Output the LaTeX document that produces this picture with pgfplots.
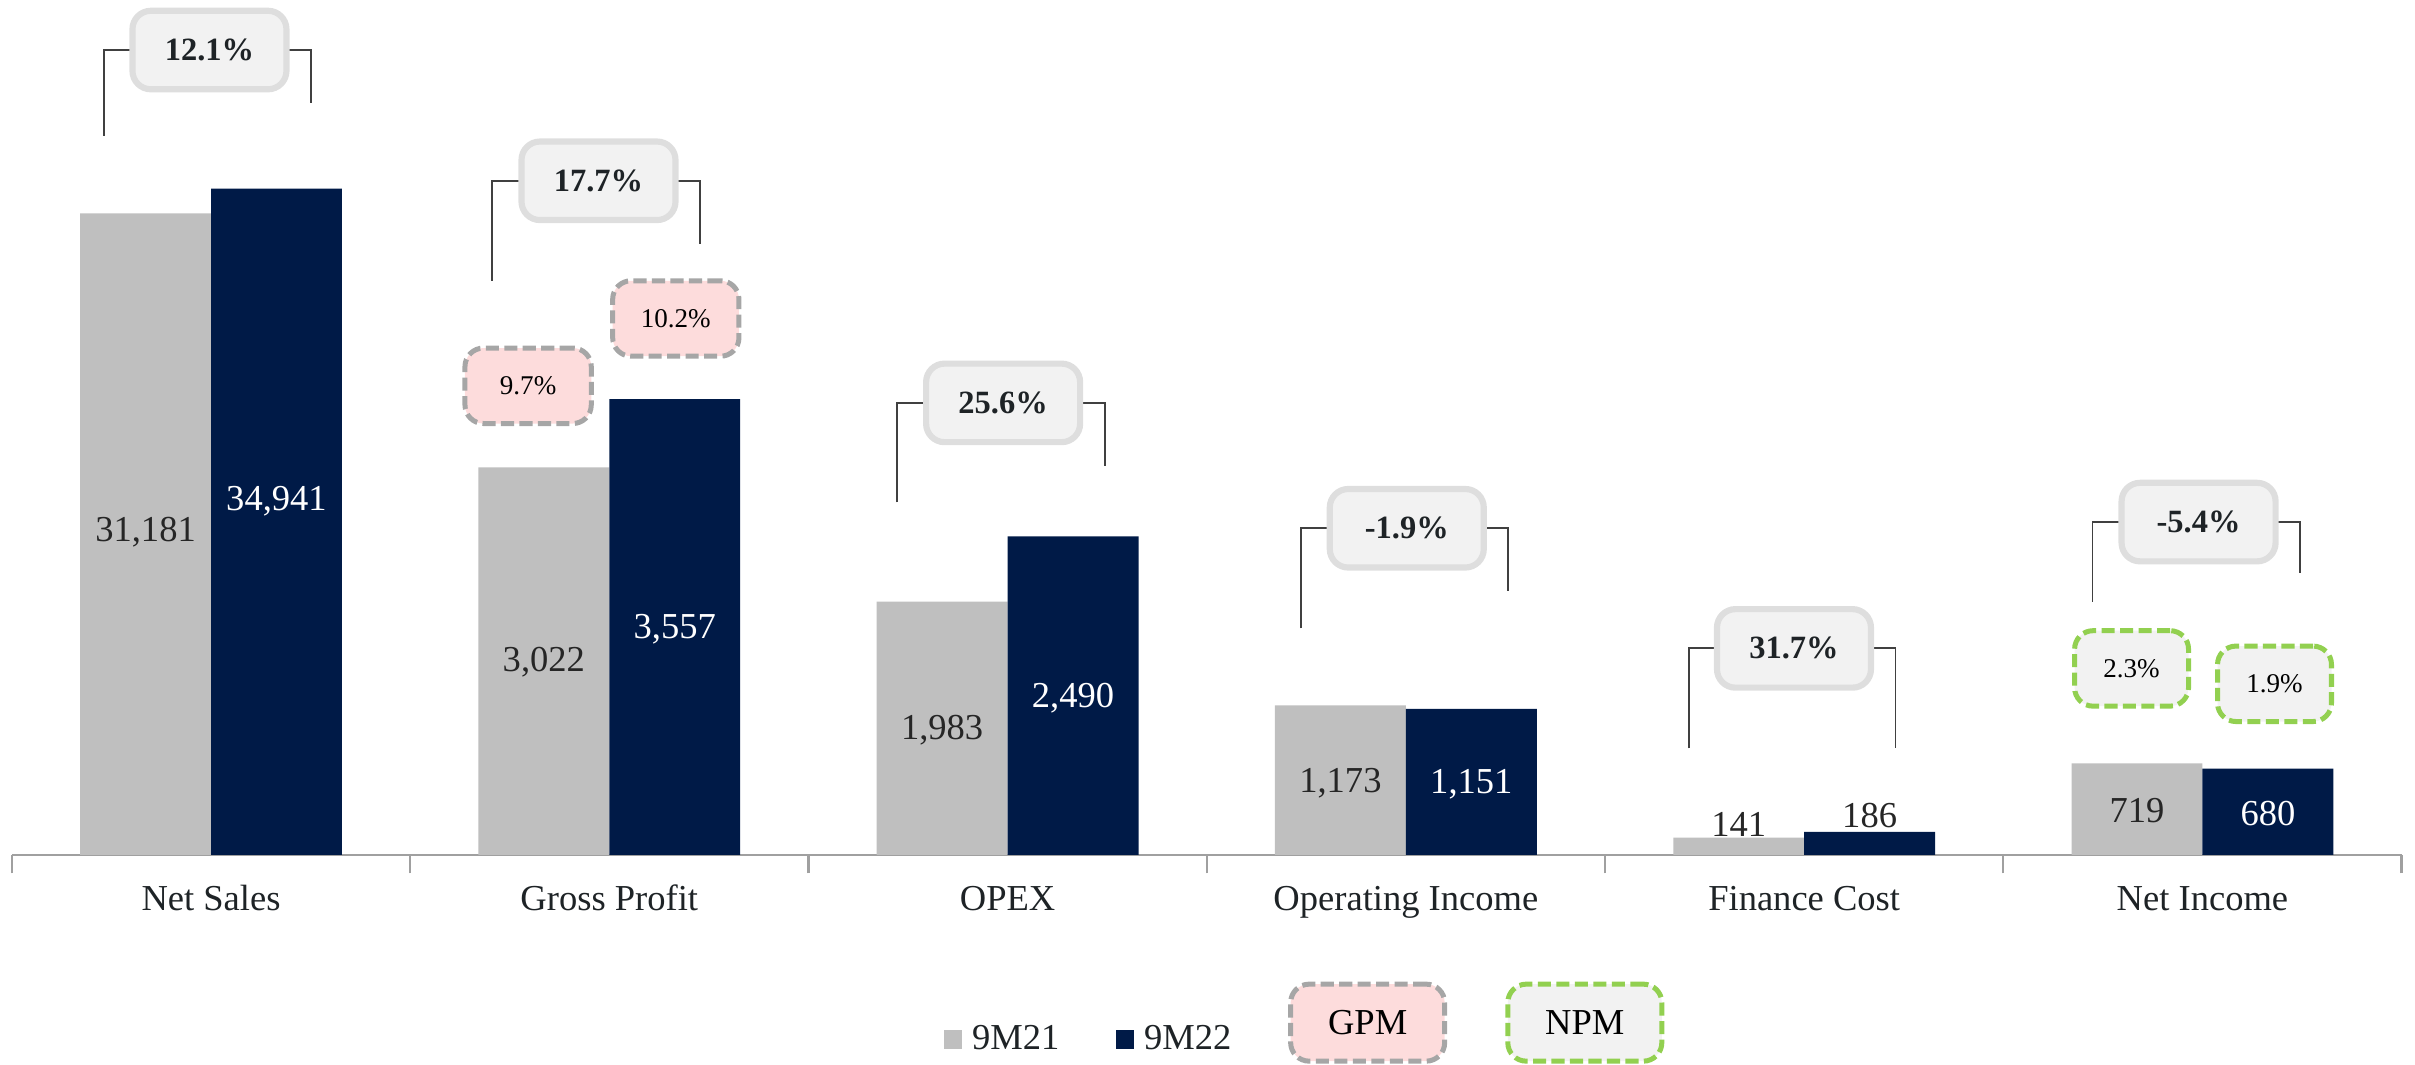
\documentclass[border=0pt]{standalone}
\usepackage{fontspec}
\setmainfont{Liberation Serif}
\usepackage{pgfplots}
\usepackage{pgfplotstable}
\pgfplotsset{compat=1.18}

\definecolor{barGray}{HTML}{BFBFBF}
\definecolor{barNavy}{HTML}{001A47}
\definecolor{axisGray}{HTML}{A0A0A0}
\definecolor{lblDark}{HTML}{262626}
\definecolor{txtDark}{HTML}{1E2326}
\definecolor{brkGray}{HTML}{404040}
\definecolor{boxFill}{HTML}{F2F2F2}
\definecolor{boxEdge}{HTML}{DEDEDE}
\definecolor{gpmFill}{HTML}{FDDCDC}
\definecolor{dashGray}{HTML}{A6A6A6}
\definecolor{npmGreen}{HTML}{92D050}

% bar heights are the drawn heights of the source chart (its scale is broken),
% lab = printed value, dy = label offset from bar top, cv = 100 dark label, 0 white label
\pgfplotstableread{
x h lab dy cv
0 416.4 31,181 -206.9 100
1 251.5 3,022 -126.7 100
2 164.4 1,983 -83.5 100
3 97.0 1,173 -50.3 100
4 11.2 141 8.8 100
5 59.3 719 -30.8 100
}\prevyear

\pgfplotstableread{
x h lab dy cv
0 432.6 34,941 -203.1 0
1 295.9 3,557 -149.4 0
2 206.7 2,490 -105.2 0
3 94.8 1,151 -49.1 0
4 14.9 186 10.8 100
5 56.0 680 -29.5 0
}\curyear

\newcommand\chg[7]{%
  \draw[brk] (#3,#4) -- (#3,#2) -- (#5,#2) -- (#5,#6);
  \node[chgbox] at (#1,#2) {#7};}

\begin{document}
\begin{tikzpicture}[
  brk/.style={draw=brkGray, line width=0.25mm},
  chgbox/.style={fill=boxFill, draw=boxEdge, line width=0.8mm, rounded corners=2.4mm,
    minimum width=20mm, minimum height=10.2mm, inner sep=0pt,
    font=\fontsize{12}{14}\selectfont\bfseries, text=txtDark},
  gpm/.style={fill=gpmFill, draw=dashGray, line width=0.65mm, dash pattern=on 1.7mm off 0.7mm,
    rounded corners=2.4mm, minimum width=16.4mm, minimum height=9.8mm, inner sep=0pt,
    font=\fontsize{10}{12}\selectfont, text=black},
  npm/.style={gpm, draw=npmGreen, fill=boxFill, minimum width=14.8mm},
]
\begin{axis}[
  x=51.72mm, y=0.2mm,
  xmin=-0.5, xmax=5.5, ymin=0, ymax=555,
  clip=false,
  axis x line*=bottom,
  hide y axis,
  x axis line style={draw=axisGray, line width=0.3mm},
  ybar=0pt, bar width=17mm,
  xtick={0,...,5},
  xticklabels={Net Sales,Gross Profit,OPEX,Operating Income,Finance Cost,Net Income},
  major tick length=0pt,
  minor xtick={-0.5,0.5,...,5.5},
  minor tick length=2.4mm,
  tick align=outside,
  minor tick style={draw=axisGray, line width=0.3mm},
  xticklabel style={font=\fontsize{13.5}{16}\selectfont, text=txtDark, anchor=base, yshift=-7.2mm},
  nodes near coords,
  point meta=explicit symbolic,
  nodes near coords style={font=\fontsize{13.5}{16}\selectfont},
  legend columns=-1,
  legend style={draw=none, fill=none, at={(0.3897,-0.2162)}, anchor=west, inner sep=0pt,
    font=\fontsize{13.5}{16}\selectfont, text=txtDark,
    nodes={inner sep=0pt},
    /tikz/every odd column/.append style={column sep=1.3mm},
    /tikz/every even column/.append style={column sep=7.3mm}},
  legend image code/.code={\fill[#1] (0mm,-1.2mm) rectangle (2.4mm,1.2mm);},
]
\addplot[fill=barGray, draw=none,
  visualization depends on={\thisrow{dy}\as\dy},
  visualization depends on={\thisrow{cv}\as\cv},
  every node near coord/.append style={anchor=center, yshift=\dy*0.2mm, text=lblDark!\cv!white}]
  table[x=x, y=h, meta=lab]{\prevyear};
\addplot[fill=barNavy, draw=none,
  visualization depends on={\thisrow{dy}\as\dy},
  visualization depends on={\thisrow{cv}\as\cv},
  every node near coord/.append style={anchor=center, yshift=\dy*0.2mm, text=lblDark!\cv!white}]
  table[x=x, y=h, meta=lab]{\curyear};
\legend{9M21,9M22}
\coordinate (TL) at (axis cs:-0.5298,555);
\coordinate (BR) at (axis cs:5.5337,-136);
\end{axis}

\begin{scope}[shift={(TL)}, x=0.2mm, y=-0.2mm]
  \chg{136}{32.5}{67.3}{88.1}{201.8}{66.7}{12.1\%}
  \chg{388.6}{117.4}{319.6}{182.3}{454.5}{158.2}{17.7\%}
  \chg{651.3}{261.6}{582.4}{326.2}{717.6}{302.5}{25.6\%}
  \chg{913.4}{343}{844.8}{408}{979.3}{383.9}{-1.9\%}
  \chg{1164.8}{421}{1096.5}{485.9}{1230.7}{485.9}{31.7\%}
  \chg{1427.5}{339}{1358.6}{390.7}{1493.5}{371.9}{-5.4\%}
  \node[gpm] at (342.9,250.5) {9.7\%};
  \node[gpm] at (438.8,206.8) {10.2\%};
  \node[npm] at (1384,434) {2.3\%};
  \node[npm] at (1476.8,444) {1.9\%};
  \node[gpm, minimum width=20mm, minimum height=10mm, font=\fontsize{13.5}{16}\selectfont] at (888,664) {GPM};
  \node[npm, minimum width=20mm, minimum height=10mm, font=\fontsize{13.5}{16}\selectfont] at (1029,664) {NPM};
\end{scope}
\pgfresetboundingbox
\path (TL) rectangle (BR);
\end{tikzpicture}
\end{document}
